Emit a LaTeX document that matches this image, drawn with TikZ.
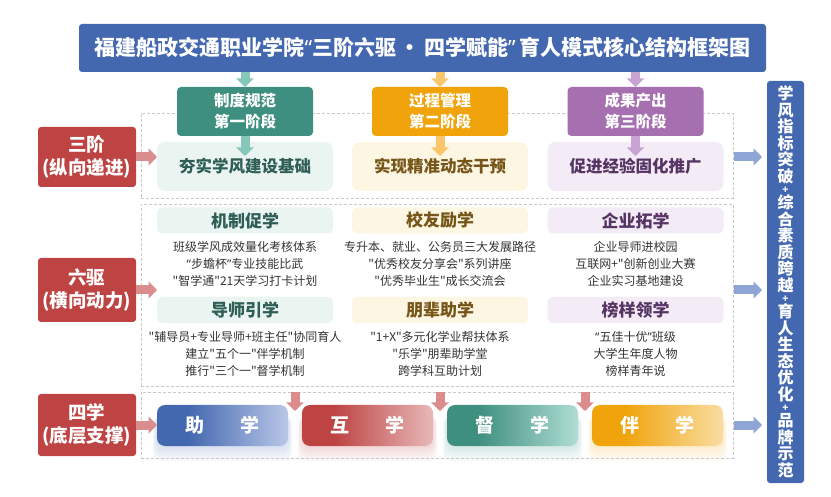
\documentclass[tikz,border=0pt]{standalone}
\usepackage{fontspec}
\setmainfont{Noto Sans CJK SC}[Ligatures=TeXOff]
\newfontfamily\latinq{Noto Sans}[Ligatures=TeXOff]
\newcommand\oqt{{\latinq “}}
\newcommand\cqt{{\latinq ”}}
\usetikzlibrary{arrows.meta,calc,backgrounds}
\definecolor{tblue}{HTML}{4468B0}
\definecolor{tteal}{HTML}{3F8F80}
\definecolor{torange}{HTML}{F0A30A}
\definecolor{tpurple}{HTML}{A56FB0}
\definecolor{tred}{HTML}{BE4343}
\definecolor{ateal}{HTML}{85C7B9}
\definecolor{aorange}{HTML}{F9C66B}
\definecolor{apurple}{HTML}{C9A3D3}
\definecolor{apink}{HTML}{DB8C8C}
\definecolor{ablue}{HTML}{8EA5D6}
\definecolor{fteal}{HTML}{EAF4F1}
\definecolor{forange}{HTML}{FDF6E3}
\definecolor{fpurple}{HTML}{F3EBF5}
\definecolor{xteal}{HTML}{2F5E56}
\definecolor{xorange}{HTML}{765518}
\definecolor{xpurple}{HTML}{563464}
\definecolor{dgray}{HTML}{C8C8C8}
\definecolor{bodygray}{HTML}{333333}
\definecolor{gblue}{HTML}{B9C7E7}
\definecolor{gred}{HTML}{E8B8B8}
\definecolor{gteal}{HTML}{B0DDD4}
\definecolor{gorange}{HTML}{FADDA4}
\pgfdeclarehorizontalshading{shzhu}{100bp}{color(0bp)=(tblue); color(25bp)=(tblue); color(37bp)=(tblue); color(75bp)=(gblue); color(100bp)=(gblue)}
\pgfdeclarehorizontalshading{shhu}{100bp}{color(0bp)=(tred); color(25bp)=(tred); color(37bp)=(tred); color(75bp)=(gred); color(100bp)=(gred)}
\pgfdeclarehorizontalshading{shdu}{100bp}{color(0bp)=(tteal); color(25bp)=(tteal); color(37bp)=(tteal); color(75bp)=(gteal); color(100bp)=(gteal)}
\pgfdeclarehorizontalshading{shban}{100bp}{color(0bp)=(torange); color(25bp)=(torange); color(37bp)=(torange); color(75bp)=(gorange); color(100bp)=(gorange)}
\newcommand\barplus{\\[-5.5pt]{\fontsize{10}{10}\selectfont+}\\[-1pt]}
\begin{document}
\begin{tikzpicture}[x=1pt,y=-1pt,
  every node/.style={inner sep=0pt, outer sep=0pt, align=center},
  titlebox/.style={fill=tblue, rounded corners=3pt, minimum width=687pt, minimum height=48pt, text=white, font=\fontsize{21}{24}\selectfont\bfseries},
  hdrbox/.style={rounded corners=4pt, minimum width=136pt, minimum height=49pt, text=white, font=\fontsize{15.5}{21}\selectfont\bfseries},
  lblbox/.style={fill=tred, rounded corners=3pt, minimum width=98pt, text=white, font=\fontsize{18.5}{23.5}\selectfont\bfseries},
  subbox/.style={rounded corners=8pt, minimum width=176pt, minimum height=49pt, font=\fontsize{16.5}{20}\selectfont\bfseries},
  dbox/.style={draw=dgray, dash pattern=on 3pt off 2pt, line width=0.8pt, minimum width=592pt},
  sixbox/.style={rounded corners=5pt, minimum width=176pt, minimum height=26pt, font=\fontsize{17}{20}\selectfont\bfseries},
  bodytxt/.style={text=bodygray, font=\fontsize{12}{17}\selectfont},
  botbox/.style={rounded corners=8pt, minimum width=131pt, minimum height=41pt, text=white, font=\fontsize{19}{22}\selectfont\bfseries},
  barbox/.style={fill=tblue, rounded corners=3pt, minimum width=37pt, minimum height=402pt, text=white, font=\fontsize{16}{16.5}\selectfont\bfseries},
  blockarr/.style={line width=9pt, -{Triangle[length=8.5pt,width=17pt]}},
]
\useasboundingbox (0,0) rectangle (831,497);

% dashed frames
\node[dbox, minimum height=85pt] (D1) at (437,155.5) {};
\node[dbox, minimum height=182pt] (D2) at (437,295) {};
\node[dbox, minimum height=66pt] (D3) at (437,425) {};

% title
\node[titlebox] (T) at (422.5,48) {福建船政交通职业学院\oqt 三阶六驱\,·\,四学赋能\cqt\,育人模式核心结构框架图};

% stage headers
\node[hdrbox, fill=tteal] (H1) at (245,111.5) {制度规范\\第一阶段};
\node[hdrbox, fill=torange] (H2) at (440,111.5) {过程管理\\第二阶段};
\node[hdrbox, fill=tpurple] (H3) at (635.5,111.5) {成果产出\\第三阶段};

% stage results
\node[subbox, fill=fteal, text=xteal] (S1) at (245,166.5) {夯实学风建设基础};
\node[subbox, fill=forange, text=xorange] (S2) at (440,166.5) {实现精准动态干预};
\node[subbox, fill=fpurple, text=xpurple] (S3) at (635.5,166.5) {促进经验固化推广};

% left labels
\node[lblbox, minimum height=60pt] (L1) at (87,157) {三阶\\(纵向递进)};
\node[lblbox, minimum height=64pt] (L2) at (87,290) {六驱\\(横向动力)};
\node[lblbox, minimum height=62pt] (L3) at (87,425) {四学\\(底层支撑)};

% six drives
\node[sixbox, fill=fteal, text=xteal] (K1) at (245,220.5) {机制促学};
\node[bodytxt] (K1b) at (245,264) {班级学风成效量化考核体系\\\oqt 步蟾杯\cqt 专业技能比武\\"智学通"21天学习打卡计划};
\node[sixbox, fill=fteal, text=xteal] (K2) at (245,310) {导师引学};
\node[bodytxt] (K2b) at (245,354) {"辅导员+专业导师+班主任"协同育人\\建立"五个一"伴学机制\\推行"三个一"督学机制};

\node[sixbox, fill=forange, text=xorange] (K3) at (440,220.5) {校友励学};
\node[bodytxt] (K3b) at (440,264) {专升本、就业、公务员三大发展路径\\"优秀校友分享会"系列讲座\\"优秀毕业生"成长交流会};
\node[sixbox, fill=forange, text=xorange] (K4) at (440,310) {朋辈助学};
\node[bodytxt] (K4b) at (440,354) {"1+X"多元化学业帮扶体系\\"乐学"朋辈助学堂\\跨学科互助计划};

\node[sixbox, fill=fpurple, text=xpurple] (K5) at (635.5,220.5) {企业拓学};
\node[bodytxt] (K5b) at (635.5,264) {企业导师进校园\\互联网+"创新创业大赛\\企业实习基地建设};
\node[sixbox, fill=fpurple, text=xpurple] (K6) at (635.5,310) {榜样领学};
\node[bodytxt] (K6b) at (635.5,354) {\oqt 五佳十优\cqt 班级\\大学生年度人物\\榜样青年说};

% four learnings
\node[botbox, shading=shzhu] (B1) at (222.5,425.5) {助\hspace{1.9em}学};
\node[botbox, shading=shhu] (B2) at (367.5,425.5) {互\hspace{1.9em}学};
\node[botbox, shading=shdu] (B3) at (512.5,425.5) {督\hspace{1.9em}学};
\node[botbox, shading=shban] (B4) at (657.5,425.5) {伴\hspace{1.9em}学};

\begin{pgfonlayer}{background}
\foreach \b/\c in {B1/tblue,B2/tred,B3/tteal,B4/torange}{
  \foreach \k in {1,...,6}{
    \fill[\c, opacity=0.035, rounded corners=9pt]
      ($(\b.north west)+(-0.7*\k,10)$) rectangle ($(\b.south east)+(0.7*\k,2.6*\k)$);
  }
}
\end{pgfonlayer}

% right bar
\node[barbox] (R) at (785.5,282) {学\\风\\指\\标\\突\\破\barplus 综\\合\\素\\质\\跨\\越\barplus 育\\人\\生\\态\\优\\化\barplus 品\\牌\\示\\范};

% arrows: title -> headers
\draw[blockarr, ateal] (T.south -| H1) -- (H1.north);
\draw[blockarr, aorange] (T.south -| H2) -- (H2.north);
\draw[blockarr, apurple] (T.south -| H3) -- (H3.north);
% headers -> results
\draw[blockarr, ateal] (H1.south) -- ($(S1.north)+(0,14)$);
\draw[blockarr, aorange] (H2.south) -- ($(S2.north)+(0,14)$);
\draw[blockarr, apurple] (H3.south) -- ($(S3.north)+(0,14)$);
% labels -> rows
\draw[blockarr, apink] (L1.east) -- (L1.east -| S1.west);
\draw[blockarr, apink] (L2.east) -- (L2.east -| K1.west);
\draw[blockarr, apink] (L3.east) -- (L3.east -| B1.west);
% rows -> right bar
\draw[blockarr, ablue] ($(D1.east |- L1)+(1,0)$) -- ($(R.west |- L1)+(-5,0)$);
\draw[blockarr, ablue] ($(D2.east |- L2)+(1,0)$) -- ($(R.west |- L2)+(-5,0)$);
\draw[blockarr, ablue] ($(D3.east |- L3)+(1,0)$) -- ($(R.west |- L3)+(-5,0)$);
% down arrows between learnings
\coordinate (g1) at ($(B1.east)!.5!(B2.west)$);
\coordinate (g2) at ($(B2.east)!.5!(B3.west)$);
\coordinate (g3) at ($(B3.east)!.5!(B4.west)$);
\foreach \g in {g1,g2,g3}{
  \draw[blockarr, apink] (\g |- D3.north) -- ($(\g |- B1.north)+(0,6)$);
}
\end{tikzpicture}
\end{document}
